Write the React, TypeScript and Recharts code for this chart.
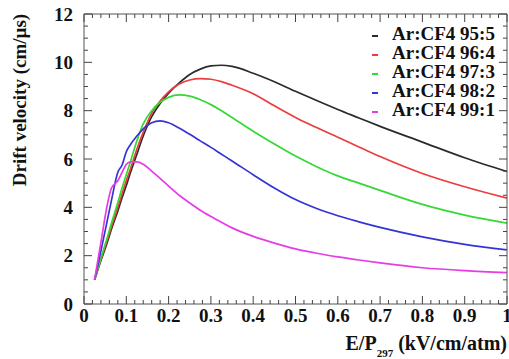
import { LineChart, Line, XAxis, YAxis, Legend } from 'recharts'

// E/P297 (kV/cm/atm) sample points shared by all curves
const E_P = [
  0.025, 0.04, 0.055, 0.065, 0.08, 0.09, 0.1, 0.11, 0.125, 0.14, 0.16, 0.18, 0.2, 0.225, 0.25,
  0.275, 0.3, 0.325, 0.35, 0.4, 0.45, 0.5, 0.55, 0.6, 0.65, 0.7, 0.8, 0.9, 1.0,
]

// drift velocity (cm/us)
const VD_95_5 = [
  1.0, 1.8, 2.55, 3.1, 3.85, 4.4, 4.9, 5.45, 6.2, 6.95, 7.75, 8.3, 8.72, 9.15, 9.5,
  9.72, 9.85, 9.88, 9.83, 9.55, 9.2, 8.8, 8.42, 8.05, 7.7, 7.35, 6.7, 6.05, 5.48,
]
const VD_96_4 = [
  1.0, 1.85, 2.65, 3.2, 4.0, 4.55, 5.1, 5.6, 6.4, 7.1, 7.9, 8.4, 8.78, 9.1, 9.27,
  9.33, 9.3, 9.2, 9.05, 8.7, 8.2, 7.72, 7.3, 6.9, 6.5, 6.1, 5.4, 4.85, 4.38,
]
const VD_97_3 = [
  1.0, 1.9, 2.75, 3.35, 4.2, 4.8, 5.35, 5.9, 6.75, 7.45, 8.0, 8.35, 8.55, 8.65, 8.6,
  8.45, 8.25, 8.0, 7.72, 7.15, 6.62, 6.12, 5.68, 5.3, 5.0, 4.7, 4.12, 3.68, 3.35,
]
const VD_98_2 = [
  1.0, 2.2, 3.45, 4.3, 5.45, 5.75, 6.3, 6.6, 6.95, 7.25, 7.5, 7.58, 7.5, 7.28, 7.02,
  6.75, 6.48, 6.2, 5.92, 5.35, 4.8, 4.32, 3.95, 3.65, 3.4, 3.17, 2.78, 2.47, 2.24,
]
const VD_99_1 = [
  1.0, 2.55, 4.1, 4.8, 5.1, 5.45, 5.78, 5.88, 5.88, 5.78, 5.5, 5.2, 4.88, 4.5, 4.18,
  3.88, 3.62, 3.38, 3.15, 2.8, 2.52, 2.28, 2.1, 1.95, 1.82, 1.7, 1.5, 1.38, 1.3,
]

const SERIES_NAMES = ['Ar:CF4 95:5', 'Ar:CF4 96:4', 'Ar:CF4 97:3', 'Ar:CF4 98:2', 'Ar:CF4 99:1']
const SERIES_VALUES = [VD_95_5, VD_96_4, VD_97_3, VD_98_2, VD_99_1]
const SERIES_COLORS = ['#2b2b2b', '#ec3c3c', '#35d835', '#3434d6', '#e63ce6']

const X_MAJOR = [0, 0.1, 0.2, 0.3, 0.4, 0.5, 0.6, 0.7, 0.8, 0.9, 1]
const X_LABELS = ['0', '0.1', '0.2', '0.3', '0.4', '0.5', '0.6', '0.7', '0.8', '0.9', '1']
const Y_MAJOR = [0, 2, 4, 6, 8, 10, 12]
const Y_LABELS = ['0', '2', '4', '6', '8', '10', '12']

const W = 509
const H = 359
const FONT = '"Liberation Serif", "Times New Roman", serif'
const AXIS = '#555'
const TICK = '#444'
const MINOR = 4 // minor tick length; majors get the same again on top

// minor tick positions between the labelled ones
function subdivide(major: number[], n: number) {
  const out: number[] = []
  for (let i = 0; i < major.length - 1; i++) {
    const step = (major[i + 1] - major[i]) / n
    for (let k = 0; k < n; k++) out.push(+(major[i] + k * step).toFixed(4))
  }
  out.push(major[major.length - 1])
  return out
}

const X_TICKS = subdivide(X_MAJOR, 5)
const Y_TICKS = subdivide(Y_MAJOR, 4)

const majorIndex = (v: number, majors: number[]) => majors.findIndex((m) => Math.abs(m - v) < 1e-6)

const textStyle = { fontFamily: FONT, fontWeight: 700, fontSize: 19, fill: '#111' }

// built-in tick lines draw the minor length inward; this adds the rest for majors + labels
function makeTick(side: 'bottom' | 'top' | 'left' | 'right') {
  return function Tick(props: any) {
    const x = Number(props.x)
    const y = Number(props.y)
    const horiz = side === 'bottom' || side === 'top'
    const idx = majorIndex(Number(props.payload.value), horiz ? X_MAJOR : Y_MAJOR)
    let x2 = x
    let y2 = y
    if (side === 'bottom') y2 = y - MINOR
    if (side === 'top') y2 = y + MINOR
    if (side === 'left') x2 = x + MINOR
    if (side === 'right') x2 = x - MINOR
    return (
      <g>
        {idx >= 0 && <line x1={x} y1={y} x2={x2} y2={y2} stroke={TICK} strokeWidth={1} />}
        {side === 'bottom' && idx >= 0 && (
          <text x={x} y={y + MINOR + 18} textAnchor="middle" style={textStyle}>
            {X_LABELS[idx]}
          </text>
        )}
        {side === 'left' && idx >= 0 && (
          <text x={x - MINOR - 11} y={y + 6.5} textAnchor="end" style={textStyle}>
            {Y_LABELS[idx]}
          </text>
        )}
      </g>
    )
  }
}

function LegendBox() {
  return (
    <div style={{ fontFamily: FONT, fontWeight: 700, fontSize: 19, lineHeight: '19px', color: '#111' }}>
      {SERIES_NAMES.map((name, i) => (
        <div key={name} style={{ whiteSpace: 'nowrap' }}>
          <span
            style={{
              display: 'inline-block',
              width: 6,
              height: 2,
              background: SERIES_COLORS[i],
              verticalAlign: 'middle',
              marginRight: 14,
            }}
          />
          {name}
        </div>
      ))}
    </div>
  )
}

const seriesData = (i: number) => E_P.map((x, j) => ({ x, v: SERIES_VALUES[i][j] }))

const axisCommon = {
  type: 'number' as const,
  interval: 0 as const,
  tickSize: -MINOR,
  tickMargin: 0,
  tickLine: { stroke: TICK },
  axisLine: { stroke: AXIS },
}

export default function App() {
  return (
    <div style={{ position: 'absolute', left: 0, top: 0, width: W, height: H, background: '#fff' }}>
      <LineChart width={W} height={H} margin={{ top: 13, right: 1, bottom: 0, left: 0 }}>
        <XAxis
          {...axisCommon}
          xAxisId="bottom"
          dataKey="x"
          domain={[0, 1]}
          ticks={X_TICKS}
          height={55}
          tick={makeTick('bottom')}
        />
        <XAxis
          {...axisCommon}
          xAxisId="top"
          orientation="top"
          dataKey="x"
          domain={[0, 1]}
          allowDataOverflow
          ticks={X_TICKS}
          height={1}
          tick={makeTick('top')}
        />
        <YAxis
          {...axisCommon}
          yAxisId="left"
          domain={[0, 12]}
          ticks={Y_TICKS}
          width={84}
          tick={makeTick('left')}
        />
        <YAxis
          {...axisCommon}
          yAxisId="right"
          orientation="right"
          domain={[0, 12]}
          allowDataOverflow
          ticks={Y_TICKS}
          width={1}
          tick={makeTick('right')}
        />
        <Legend
          layout="horizontal"
          verticalAlign="middle"
          align="center"
          content={<LegendBox />}
          wrapperStyle={{ top: 24, left: 372, width: 135, height: 100 }}
        />
        {SERIES_NAMES.map((name, i) => (
          <Line
            key={name}
            xAxisId="bottom"
            yAxisId="left"
            name={name}
            data={seriesData(i)}
            dataKey="v"
            type="monotone"
            stroke={SERIES_COLORS[i]}
            strokeWidth={1.7}
            dot={false}
            isAnimationActive={false}
          />
        ))}
        {/* invisible copy so the mirrored top/right axes get a scale */}
        <Line
          xAxisId="top"
          yAxisId="right"
          data={seriesData(0)}
          dataKey="v"
          stroke="transparent"
          strokeWidth={0}
          dot={false}
          activeDot={false}
          legendType="none"
          isAnimationActive={false}
        />
      </LineChart>

      <div
        style={{
          position: 'absolute',
          left: -80,
          top: 90,
          width: 200,
          textAlign: 'center',
          transform: 'rotate(-90deg)',
          fontFamily: FONT,
          fontWeight: 700,
          fontSize: 19,
          lineHeight: '20px',
          color: '#111',
          whiteSpace: 'nowrap',
        }}
      >
        Drift velocity (cm/µs)
      </div>

      <div
        style={{
          position: 'absolute',
          right: 2,
          top: 333,
          fontFamily: FONT,
          fontWeight: 700,
          fontSize: 20,
          lineHeight: '20px',
          color: '#111',
          whiteSpace: 'nowrap',
        }}
      >
        E/P
        <span style={{ fontSize: 11, verticalAlign: -7, lineHeight: 0 }}>297</span> (kV/cm/atm)
      </div>
    </div>
  )
}
